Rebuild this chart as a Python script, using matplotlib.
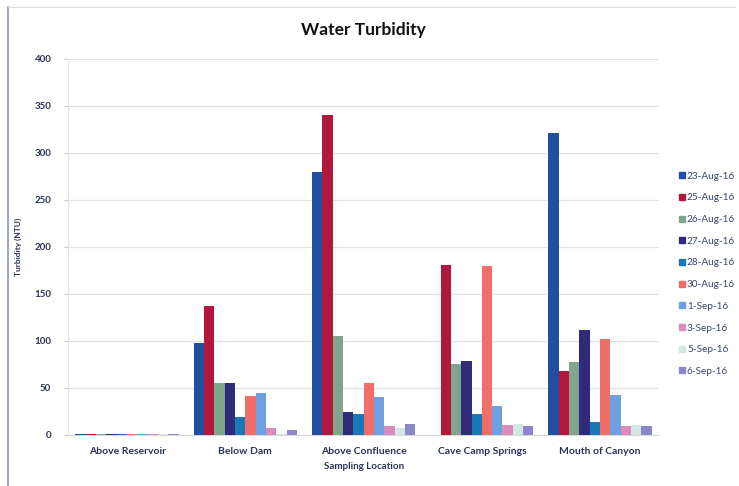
import matplotlib
matplotlib.use("Agg")
import matplotlib.pyplot as plt
import numpy as np
from matplotlib.lines import Line2D

locations = ["Above Reservoir", "Below Dam", "Above Confluence", "Cave Camp Springs", "Mouth of Canyon"]
dates = ["23-Aug-16", "25-Aug-16", "26-Aug-16", "27-Aug-16", "28-Aug-16",
         "30-Aug-16", "1-Sep-16", "3-Sep-16", "5-Sep-16", "6-Sep-16"]
aug23 = [1.0, 97, 280, 0, 321]
aug25 = [1.0, 137, 340, 181, 68]
aug26 = [1.0, 55, 105, 75, 77]
aug27 = [1.0, 55, 24, 78, 111]
aug28 = [1.0, 19, 22, 22, 13]
aug30 = [0.8, 41, 55, 179, 102]
sep01 = [0.8, 44, 40, 30, 42]
sep03 = [0.6, 7, 9, 10, 9]
sep05 = [0.6, 1, 7, 11, 10]
sep06 = [0.6, 5, 11, 9, 9]
series = [aug23, aug25, aug26, aug27, aug28, aug30, sep01, sep03, sep05, sep06]
colors = ["#1f4f9e", "#b3173d", "#7fa68c", "#2f2a7a", "#1b78b6",
          "#f06e69", "#6e9fe0", "#d98cbc", "#d3e6e3", "#8c87c9"]
yticks = [0, 50, 100, 150, 200, 250, 300, 350, 400]

plt.rcParams['font.family'] = ['Lato', 'DejaVu Sans']
fig = plt.figure(figsize=(7.39, 4.86), dpi=100)
fig.patch.set_facecolor("white")
ax = fig.add_axes([0.0920, 0.1058, 0.800, 0.773])

x = np.arange(len(locations))
n = len(series)
gw = 0.873
bw = gw / n
for i, (vals, c) in enumerate(zip(series, colors)):
    ax.bar(x - gw / 2 + bw * (i + 0.5), vals, width=bw, color=c, label=dates[i],
           edgecolor="none", zorder=3)

ax.set_xlim(-0.5, len(locations) - 0.5)
ax.set_ylim(0, 400)
ax.set_yticks(yticks)
ax.set_yticklabels([str(t) for t in yticks], fontsize=7, color="#2b3358", fontweight="bold")
ax.set_xticks(x)
ax.set_xticklabels(locations, fontsize=7.5, color="#2b3358", fontweight="bold")
ax.tick_params(axis="x", length=0, pad=9)
ax.tick_params(axis="y", length=3, color="#cccccc", pad=9)
ax.grid(axis="y", color="#e2e2e2", linewidth=0.9, zorder=0)
for s in ["top", "right"]:
    ax.spines[s].set_visible(False)
ax.spines["left"].set_color("#e6e6e6")
ax.spines["bottom"].set_color("#d9d9d9")

ax.set_title("Water Turbidity", fontsize=12.5, fontweight="bold", color="#111111", pad=17)
ax.set_xlabel("Sampling Location", fontsize=7, fontweight="bold", color="#2b3358", labelpad=4)
ax.set_ylabel("Turbidity (NTU)", fontsize=6, fontweight="bold", color="#2b3358", labelpad=9)

handles = [Line2D([0], [0], marker="s", linestyle="none", markersize=4.5,
                  markerfacecolor=c, markeredgecolor=c) for c in colors]
leg = fig.legend(handles, dates, loc="upper left", bbox_to_anchor=(0.912, 0.655),
                 frameon=False, fontsize=7.2, labelspacing=1.27, handletextpad=0.1,
                 handlelength=0.8, borderaxespad=0)
for t in leg.get_texts():
    t.set_color("#3a4670")

# outer frame lines
fig.add_artist(Line2D([0.011, 0.011], [0.0, 0.985], transform=fig.transFigure,
                      color="#8a93c0", linewidth=1.2))
fig.add_artist(Line2D([0.011, 0.995], [0.985, 0.985], transform=fig.transFigure,
                      color="#dddddd", linewidth=0.8))

fig.savefig("out.png", dpi=100, facecolor="white")
